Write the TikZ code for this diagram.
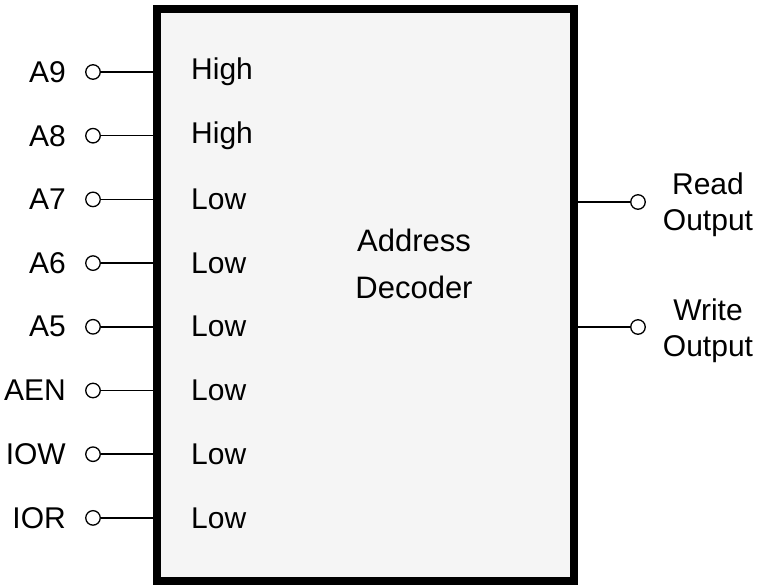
\documentclass[tikz,border=0pt]{standalone}
\usepackage{fontspec}
\setmainfont{Liberation Sans}
\begin{document}
\begin{tikzpicture}[x=1pt,y=-1pt,
  pin/.style={circle,draw,line width=1.3pt,fill=white,inner sep=0pt,minimum size=14.5pt},
  wire/.style={line width=1.5pt},
  lbl/.style={font=\fontsize{30}{34}\selectfont,inner sep=0pt,anchor=east},
  lvl/.style={font=\fontsize{30}{34}\selectfont,inner sep=0pt,anchor=west},
  outlbl/.style={font=\fontsize{30}{36}\selectfont,inner sep=0pt,align=center}]
\useasboundingbox (0,0) rectangle (766,587);
\node[draw,line width=8.5pt,fill=black!4,minimum width=417pt,minimum height=572pt,inner sep=0pt] (box) at (365.5,295) {};
\node[font=\fontsize{31}{47}\selectfont,align=center,inner sep=0pt] (title) at (414,264) {Address\\Decoder};
\foreach \n/\lab/\lev [count=\i from 0] in {a9/A9/High,a8/A8/High,a7/A7/Low,a6/A6/Low,a5/A5/Low,aen/AEN/Low,iow/IOW/Low,ior/IOR/Low}{
  \pgfmathsetmacro{\yy}{72+63.7*\i}
  \node[pin] (p\n) at (93,\yy) {};
  \node[lbl] (l\n) at (66,\yy) {\lab};
  \node[lvl] (v\n) at (191,\yy) {\lev};
  \draw[wire] (p\n.east) -- (p\n.east -| box.west);
}
\node[pin] (pread) at (638,202) {};
\node[pin] (pwrite) at (638,327) {};
\draw[wire] (pread.west) -- (pread.west -| box.east);
\draw[wire] (pwrite.west) -- (pwrite.west -| box.east);
\node[outlbl] (tread) at (708,205) {Read\\Output};
\node[outlbl] (twrite) at (708,331) {Write\\Output};
\end{tikzpicture}
\end{document}
